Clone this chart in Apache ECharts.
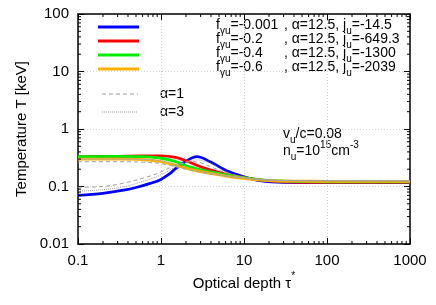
<!DOCTYPE html>
<html><head><meta charset="utf-8">
<script src="https://cdn.jsdelivr.net/npm/echarts@6/dist/echarts.min.js"></script>
<style>html,body{margin:0;padding:0;background:#fff}#c{width:436px;height:305px}</style>
</head><body><div id="c"></div>
<script>
// Data
const xTicks = [0.1, 1, 10, 100, 1000];
const yTicks = [0.01, 0.1, 1, 10, 100];
const blueTau = [0.1, 0.2, 0.37, 0.5, 0.74, 1, 1.3, 1.5, 2, 2.7, 3.9, 6.2, 9.8, 15.5, 30, 100, 1000];
const blueT   = [0.070, 0.076, 0.087, 0.096, 0.113, 0.133, 0.17, 0.205, 0.275, 0.33, 0.27, 0.188, 0.148, 0.126, 0.118, 0.117, 0.117];
const redTau = [0.1, 0.3, 0.6, 1, 1.5, 2, 3, 4, 7, 15, 30, 100, 1000];
const redT   = [0.330, 0.335, 0.34, 0.34, 0.32, 0.28, 0.22, 0.193, 0.157, 0.13, 0.121, 0.118, 0.118];
const greenTau = [0.1, 0.3, 0.6, 1, 1.5, 2.2, 3.9, 9, 15, 30, 100, 1000];
const greenT   = [0.33, 0.335, 0.33, 0.31, 0.27, 0.22, 0.18, 0.146, 0.132, 0.124, 0.121, 0.121];
const orangeTau = [0.1, 0.3, 0.6, 1, 1.5, 2.2, 3.9, 9, 20, 50, 100, 1000];
const orangeT   = [0.30, 0.30, 0.295, 0.27, 0.235, 0.2, 0.17, 0.14, 0.127, 0.124, 0.123, 0.123];
// gray comparison curves: alpha=1 (dashed) and alpha=3 (dotted)
const a1LowTau = [0.1, 0.2, 0.37, 0.74, 1, 1.5, 2, 2.5, 3, 4, 6, 10, 20, 50, 1000];
const a1LowT   = [0.097, 0.1, 0.116, 0.152, 0.18, 0.235, 0.265, 0.27, 0.26, 0.22, 0.175, 0.145, 0.129, 0.126, 0.126];
const a1UpTau = [0.1, 0.3, 0.6, 1, 2, 4, 10, 20, 50, 1000];
const a1UpT   = [0.27, 0.27, 0.265, 0.25, 0.2, 0.165, 0.14, 0.13, 0.127, 0.126];
const a3LowTau = [0.1, 0.2, 0.37, 0.74, 1, 1.5, 2, 2.7, 4, 6, 10, 20, 1000];
const a3LowT   = [0.083, 0.088, 0.1, 0.135, 0.16, 0.22, 0.265, 0.29, 0.25, 0.18, 0.145, 0.127, 0.125];
const a3UpTau = [0.1, 0.3, 0.6, 1, 2, 4, 10, 20, 100, 1000];
const a3UpT   = [0.30, 0.30, 0.295, 0.28, 0.21, 0.17, 0.14, 0.13, 0.125, 0.125];

const legendLabels = [
  ['{n|f}{s|γu}{n|=-0.001}', '{n|, α=12.5, j}{s|u}{n|=-14.5}'],
  ['{n|f}{s|γu}{n|=-0.2}',   '{n|, α=12.5, j}{s|u}{n|=-649.3}'],
  ['{n|f}{s|γu}{n|=-0.4}',   '{n|, α=12.5, j}{s|u}{n|=-1300}'],
  ['{n|f}{s|γu}{n|=-0.6}',   '{n|, α=12.5, j}{s|u}{n|=-2039}']
];
const colors = ['#0000ff', '#ff0000', '#00ee00', '#ffb000'];

const zip = (a, b) => a.map((v, i) => [v, b[i]]);
const minorX = [], minorY = [];
[0.1, 1, 10, 100].forEach(d => { for (let k = 2; k <= 9; k++) minorX.push([d * k, 1]); });
[0.01, 0.1, 1, 10].forEach(d => { for (let k = 2; k <= 9; k++) minorY.push([1, d * k]); });

const FONT = 'Liberation Sans, Arial, sans-serif';
const FS = 15;
const LFS = 14;
const chart = echarts.init(document.getElementById('c'));
const fmt = v => String(+(+v).toPrecision(3));
const gridLine = {show: true, lineStyle: {color: '#d0d0d0', type: [1, 2], width: 1}};
const baseX = {type: 'log', logBase: 10, min: 0.1, max: 1000,
  axisLine: {show: true, onZero: false, lineStyle: {color: '#000', width: 1.5}},
  axisTick: {show: true, inside: true, length: 6, lineStyle: {color: '#000'}}};
const baseY = {type: 'log', logBase: 10, min: 0.01, max: 100,
  axisLine: {show: true, onZero: false, lineStyle: {color: '#000', width: 1.5}},
  axisTick: {show: true, inside: true, length: 6, lineStyle: {color: '#000'}}};

function lineSeries(tau, T, color, width, type) {
  return {type: 'line', data: zip(tau, T), showSymbol: false, smooth: 0.35, silent: true,
    lineStyle: {color: color, width: width, type: type}, z: type === 'solid' ? 3 : 4};
}
function tickRenderer(isX) {
  return function (params, api) {
    const L = 3;
    if (isX) {
      const v = api.value(0);
      const b = api.coord([v, 0.01]), t = api.coord([v, 100]);
      return {type: 'group', children: [
        {type: 'line', shape: {x1: b[0], y1: b[1], x2: b[0], y2: b[1] - L}, style: {stroke: '#000', lineWidth: 1}},
        {type: 'line', shape: {x1: t[0], y1: t[1], x2: t[0], y2: t[1] + L}, style: {stroke: '#000', lineWidth: 1}}]};
    } else {
      const v = api.value(1);
      const l = api.coord([0.1, v]), r = api.coord([1000, v]);
      return {type: 'group', children: [
        {type: 'line', shape: {x1: l[0], y1: l[1], x2: l[0] + L, y2: l[1]}, style: {stroke: '#000', lineWidth: 1}},
        {type: 'line', shape: {x1: r[0], y1: r[1], x2: r[0] - L, y2: r[1]}, style: {stroke: '#000', lineWidth: 1}}]};
    }
  };
}

const richN = {fontSize: LFS, fontFamily: FONT, color: '#000', lineHeight: 18, verticalAlign: 'top'};
const richS = {fontSize: 10, fontFamily: FONT, color: '#000', lineHeight: 18, verticalAlign: 'bottom'};
const graphics = [];
const rowsY = [27, 41, 55, 69];
rowsY.forEach((y, i) => {
  graphics.push({type: 'line', shape: {x1: 98, y1: y, x2: 139, y2: y}, style: {stroke: colors[i], lineWidth: 3}});
  graphics.push({type: 'text', x: 216, y: y - 9, style: {text: legendLabels[i][0], rich: {n: richN, s: richS}}});
  graphics.push({type: 'text', x: 284, y: y - 9, style: {text: legendLabels[i][1], rich: {n: richN, s: richS}}});
});
graphics.push({type: 'line', shape: {x1: 102, y1: 94, x2: 138, y2: 94}, style: {stroke: '#999', lineWidth: 1, lineDash: [4, 3]}});
graphics.push({type: 'text', x: 160, y: 94, style: {text: 'α=1', font: LFS + 'px ' + FONT, fill: '#000', verticalAlign: 'middle'}});
graphics.push({type: 'line', shape: {x1: 102, y1: 112, x2: 138, y2: 112}, style: {stroke: '#999', lineWidth: 1, lineDash: [1, 1]}});
graphics.push({type: 'text', x: 160, y: 112, style: {text: 'α=3', font: LFS + 'px ' + FONT, fill: '#000', verticalAlign: 'middle'}});
graphics.push({type: 'text', x: 283, y: 127, style: {text: '{n|v}{s|u}{n|/c=0.08}', rich: {n: richN, s: richS}}});
graphics.push({type: 'text', x: 283, y: 140, style: {text: '{m|n}{s|u}{m|=10}{p|15}{m|cm}{p|-3}', rich: {
  m: {fontSize: LFS, fontFamily: FONT, color: '#000', lineHeight: 22, verticalAlign: 'middle'},
  s: {fontSize: 10, fontFamily: FONT, color: '#000', lineHeight: 22, verticalAlign: 'bottom'},
  p: {fontSize: 10, fontFamily: FONT, color: '#000', lineHeight: 22, verticalAlign: 'top'}}}});
// axis titles
graphics.push({type: 'text', x: 22, y: 129, rotation: Math.PI / 2, style: {text: 'Temperature T [keV]', font: FS + 'px ' + FONT, fill: '#000', align: 'center', verticalAlign: 'middle'}});
graphics.push({type: 'text', x: 244, y: 271, style: {text: '{n|Optical depth τ}{p|*}', align: 'center', rich: {
  n: {fontSize: FS, fontFamily: FONT, color: '#000', lineHeight: 20, verticalAlign: 'bottom'},
  p: {fontSize: 10, fontFamily: FONT, color: '#000', lineHeight: 20, verticalAlign: 'top'}}}});

chart.setOption({
  animation: false,
  backgroundColor: '#fff',
  grid: {left: 78, right: 26, top: 14, bottom: 61, containLabel: false},
  xAxis: [
    Object.assign({}, baseX, {position: 'bottom', splitLine: gridLine,
      axisLabel: {color: '#000', fontSize: FS, fontFamily: FONT, margin: 9, formatter: fmt}}),
    Object.assign({}, baseX, {position: 'top', splitLine: {show: false}, axisLabel: {show: false}})
  ],
  yAxis: [
    Object.assign({}, baseY, {position: 'left', splitLine: gridLine,
      axisLabel: {color: '#000', fontSize: FS, fontFamily: FONT, margin: 9, formatter: fmt}}),
    Object.assign({}, baseY, {position: 'right', splitLine: {show: false}, axisLabel: {show: false}})
  ],
  series: [
    lineSeries(blueTau, blueT, colors[0], 2.8, 'solid'),
    lineSeries(redTau, redT, colors[1], 2.8, 'solid'),
    lineSeries(greenTau, greenT, colors[2], 2.8, 'solid'),
    lineSeries(orangeTau, orangeT, colors[3], 2.8, 'solid'),
    lineSeries(a1LowTau, a1LowT, '#a0a0a0', 1, [4, 3]),
    lineSeries(a1UpTau, a1UpT, '#a0a0a0', 1, [4, 3]),
    lineSeries(a3LowTau, a3LowT, '#a0a0a0', 1, [1, 1]),
    lineSeries(a3UpTau, a3UpT, '#a0a0a0', 1, [1, 1]),
    {type: 'custom', data: minorX, renderItem: tickRenderer(true), silent: true, z: 5, clip: false},
    {type: 'custom', data: minorY, renderItem: tickRenderer(false), silent: true, z: 5, clip: false}
  ],
  graphic: graphics
});
</script></body></html>
